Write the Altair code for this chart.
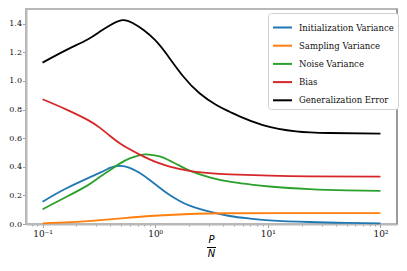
import altair as alt
import pandas as pd

# Values; x positions are log10(P/N)
init_x = [-1, -0.787, -0.49, -0.403, -0.315, -0.226, -0.137, -0.049, 0.04, 0.129, 0.217, 0.306, 0.483, 0.66, 0.838, 1.015, 1.37, 1.7, 2]
init_y = [0.155, 0.25, 0.359, 0.392, 0.406, 0.392, 0.356, 0.308, 0.254, 0.203, 0.161, 0.128, 0.086, 0.056, 0.038, 0.026, 0.014, 0.008, 0.005]

samp_x = [-1, -0.75, -0.49, -0.25, -0.049, 0.306, 0.66, 1.37, 2]
samp_y = [0.005, 0.013, 0.027, 0.043, 0.056, 0.070, 0.075, 0.076, 0.076]

noise_x = [-1, -0.787, -0.6, -0.49, -0.403, -0.315, -0.226, -0.137, -0.078, 0.04, 0.129, 0.217, 0.306, 0.483, 0.66, 0.838, 1.015, 1.37, 1.7, 2]
noise_y = [0.103, 0.19, 0.27, 0.33, 0.376, 0.422, 0.459, 0.481, 0.487, 0.472, 0.443, 0.408, 0.373, 0.326, 0.296, 0.277, 0.262, 0.244, 0.235, 0.231]

bias_x = [-1, -0.787, -0.6, -0.49, -0.403, -0.315, -0.226, -0.137, -0.049, 0.04, 0.129, 0.306, 0.483, 0.66, 1.015, 1.37, 2]
bias_y = [0.872, 0.8, 0.728, 0.672, 0.617, 0.565, 0.522, 0.485, 0.452, 0.424, 0.401, 0.371, 0.355, 0.347, 0.338, 0.333, 0.331]

gen_x = [-1, -0.787, -0.6, -0.49, -0.4, -0.29, -0.2, -0.1, 0.0, 0.099, 0.246, 0.394, 0.543, 0.66, 0.749, 0.956, 1.25, 1.547, 2]
gen_y = [1.128, 1.217, 1.29, 1.345, 1.39, 1.425, 1.405, 1.355, 1.285, 1.19, 1.035, 0.914, 0.832, 0.785, 0.752, 0.692, 0.648, 0.636, 0.632]

names  = ["Initialization Variance", "Sampling Variance", "Noise Variance", "Bias", "Generalization Error"]
colors = ["#1f77b4", "#ff7f0e", "#2ca02c", "#d62728", "#000000"]
series = [(init_x, init_y), (samp_x, samp_y), (noise_x, noise_y), (bias_x, bias_y), (gen_x, gen_y)]

x_major = [0.1, 1, 10, 100]
x_minor = [k * 10.0 ** e for e in (-2, -1, 0, 1) for k in range(2, 10) if 0.075 < k * 10.0 ** e < 140]
y_ticks = [0.0, 0.2, 0.4, 0.6, 0.8, 1.0, 1.2, 1.4]

rows = []
for i, (n, (xs, ys)) in enumerate(zip(names, series)):
    for lx, v in zip(xs, ys):
        rows.append({"ratio": 10.0 ** lx, "value": v, "series": n, "order": i})
df = pd.DataFrame(rows)

W, H = 371, 215
SERIF = "DejaVu Serif"

label_expr = ("datum.value == 0.1 ? '10⁻¹' : datum.value == 1 ? '10⁰' : "
              "datum.value == 10 ? '10¹' : datum.value == 100 ? '10²' : ''")

lines = alt.Chart(df).mark_line(strokeWidth=1.8, interpolate="natural").encode(
    x=alt.X("ratio:Q",
            scale=alt.Scale(type="log", domain=[10 ** -1.147, 10 ** 2.147], nice=False),
            axis=alt.Axis(values=x_major + x_minor, labelExpr=label_expr, title=None,
                          tickSize=alt.ExprRef(expr="(datum.value == 0.1 || datum.value == 1 || datum.value == 10 || datum.value == 100) ? 3.5 : 2"),
                          labelFont=SERIF, labelFontSize=9, labelPadding=2,
                          grid=False)),
    y=alt.Y("value:Q",
            scale=alt.Scale(domain=[0, 1.503], nice=False, zero=False),
            axis=alt.Axis(values=y_ticks, format=".1f", title=None, tickSize=3.5,
                          labelFont=SERIF, labelFontSize=8, labelPadding=1, grid=False)),
    color=alt.Color("series:N",
                    scale=alt.Scale(domain=names, range=colors),
                    legend=alt.Legend(title=None, orient="none", legendX=242, legendY=4,
                                      symbolType="stroke", symbolSize=361, symbolStrokeWidth=2,
                                      labelFont=SERIF, labelFontSize=8.5, labelColor="#111",
                                      labelOffset=6, rowPadding=3.2, padding=4,
                                      fillColor="white", strokeColor="#d0d0d0",
                                      cornerRadius=3, labelLimit=200)),
    order=alt.Order("order:Q"),
    detail="series:N",
)

p_text = alt.Chart(pd.DataFrame({"t": ["P"]})).mark_text(
    font="DejaVu Sans", fontStyle="italic", fontSize=10, baseline="alphabetic", align="center", color="black"
).encode(text="t:N", x=alt.value(185.5), y=alt.value(234))

n_text = alt.Chart(pd.DataFrame({"t": ["N"]})).mark_text(
    font="DejaVu Sans", fontStyle="italic", fontSize=10, baseline="alphabetic", align="center", color="black"
).encode(text="t:N", x=alt.value(185.5), y=alt.value(248))

bar = alt.Chart(pd.DataFrame({"a": [0]})).mark_rule(color="black", strokeWidth=1).encode(
    x=alt.value(181), x2=alt.value(190), y=alt.value(238.5)
)

right_edge = alt.Chart(pd.DataFrame({"a": [0]})).mark_rule(color="#808080", strokeWidth=1).encode(
    x=alt.value(W), y=alt.value(0), y2=alt.value(H)
)

chart = alt.layer(lines, p_text, n_text, bar, right_edge).properties(
    width=W, height=H,
    autosize=alt.AutoSizeParams(type="none"),
    padding={"left": 18, "top": 1, "right": 2, "bottom": 40},
).configure_view(
    stroke="#b8b8b8", strokeWidth=2
).configure_axis(
    domainColor="#b8b8b8", domainWidth=2, tickColor="#a0a0a0", tickWidth=1,
    labelColor="#111"
)

chart.save("out.html", embed_options={"renderer": "svg", "actions": False})
